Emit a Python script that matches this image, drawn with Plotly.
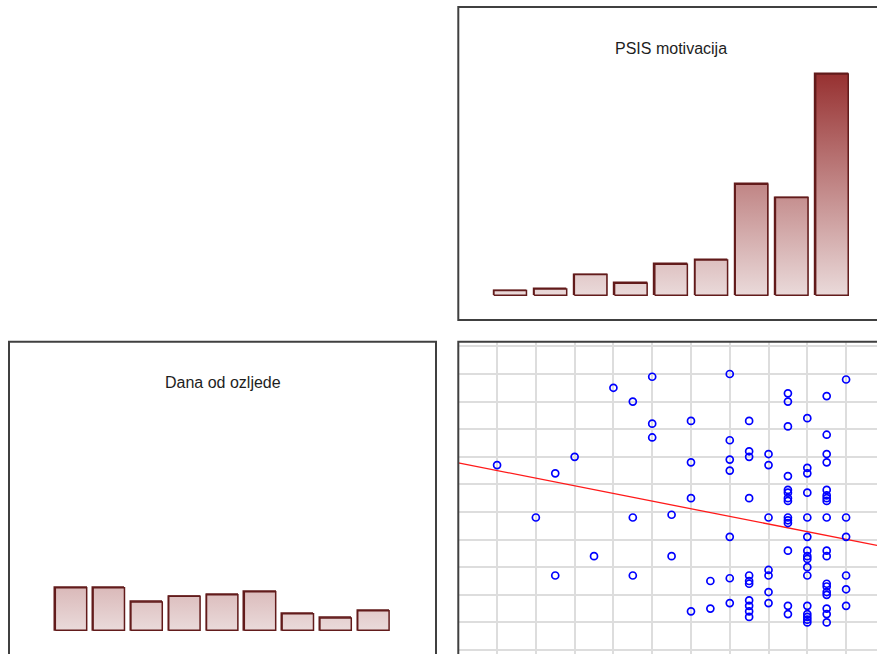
import numpy as np
import plotly.graph_objects as go

# ---------------- data ----------------
panel_titles = ["PSIS motivacija", "Dana od ozljede"]

# histogram of PSIS motivacija (bar heights, relative frequency units)
psis_bins = [1, 2, 3, 4, 5, 6, 7, 8, 9]
psis_freq = [4.7, 6.3, 20.7, 12.0, 31.0, 35.3, 111.0, 97.7, 221.3]

# histogram of Dana od ozljede (same units)
dana_bins = [1, 2, 3, 4, 5, 6, 7, 8, 9]
dana_freq = [42.6, 42.6, 28.3, 34.0, 35.6, 38.6, 16.6, 12.3, 19.6]

# scatter: PSIS motivacija (x) vs Dana od ozljede (y)
psis_score = [
    1.0,
    2.0,
    2.5, 2.5,
    3.0,
    3.5,
    4.0,
    4.5, 4.5, 4.5,
    5.0, 5.0, 5.0,
    5.5, 5.5,
    6.0, 6.0, 6.0, 6.0,
    6.5, 6.5,
    7.0, 7.0, 7.0, 7.0, 7.0, 7.0, 7.0,
    7.5, 7.5, 7.5, 7.5, 7.5, 7.5, 7.5, 7.5, 7.5, 7.5, 7.5,
    8.0, 8.0, 8.0, 8.0, 8.0, 8.0, 8.0,
    8.5, 8.5, 8.5, 8.5, 8.5, 8.5, 8.5, 8.5, 8.5, 8.5, 8.5, 8.5, 8.5, 8.5,
    9.0, 9.0, 9.0, 9.0, 9.0, 9.0, 9.0, 9.0, 9.0, 9.0, 9.0, 9.0, 9.0, 9.0, 9.0, 9.0,
    9.5, 9.5, 9.5, 9.5, 9.5, 9.5, 9.5, 9.5, 9.5, 9.5, 9.5, 9.5, 9.5, 9.5, 9.5, 9.5, 9.5, 9.5,
    10.0, 10.0, 10.0, 10.0, 10.0, 10.0,
]
days_since_injury = [
    67,
    48,
    64, 27,
    70,
    34,
    95,
    90, 48, 27,
    99, 82, 77,
    49, 34,
    83, 68, 55, 14,
    25, 15,
    100, 76, 69, 65, 41, 26, 17,
    83, 72, 70, 55, 27, 25, 24, 18, 16, 14, 12,
    71, 67, 48, 29, 27, 21, 17,
    93, 90, 81, 63, 58, 57, 55, 54, 48, 47, 46, 36, 16, 13,
    84, 66, 64, 57, 48, 41, 36, 34, 33, 30, 27, 16, 13, 12, 11, 10,
    92, 78, 71, 68, 58, 56, 55, 54, 48, 36, 34, 24, 23, 21, 20, 15, 13, 10,
    98, 48, 41, 27, 22, 16,
]

# ---------------- styling / layout ----------------
W, H = 877, 654
GRAD = [[0, "#eadada"], [1, "#973131"]]
EDGE = "#621b1b"
BORDER = "#404040"
FONT = "Liberation Sans, Arial, sans-serif"


def fx(p):
    return p / W


def fy(p):
    return 1 - p / H


def hist_traces(bins, freq, width, xa, ya, grad_stop):
    bar = go.Bar(
        x=bins, y=freq, width=width,
        marker=dict(color="#cfa5a5", line=dict(color=EDGE, width=1.5)),
        xaxis=xa, yaxis=ya, hoverinfo="skip", showlegend=False,
    )
    xs, ys = [], []
    for b, f in zip(bins, freq):
        xs += [b - width / 2, b + width / 2, b + width / 2, b - width / 2, b - width / 2, None]
        ys += [0, 0, f, f, 0, None]
    grad = go.Scatter(
        x=xs, y=ys, mode="lines", fill="toself",
        fillgradient=dict(type="vertical", colorscale=GRAD, start=0, stop=grad_stop),
        line=dict(color=EDGE, width=1.5),
        xaxis=xa, yaxis=ya, hoverinfo="skip", showlegend=False,
    )
    return [bar, grad]


fig = go.Figure()
grad_stop = max(psis_freq)
for t in hist_traces(psis_bins, psis_freq, 0.81, "x", "y", grad_stop):
    fig.add_trace(t)
for t in hist_traces(dana_bins, dana_freq, 0.83, "x2", "y2", grad_stop):
    fig.add_trace(t)

# scatter panel
sc_xrange = [0, 10.797]
sc_yrange = [-1.449, 111.7]
slope, intercept = np.polyfit(psis_score, days_since_injury, 1)
fig.add_trace(go.Scatter(
    x=sc_xrange, y=[intercept + slope * v for v in sc_xrange],
    mode="lines", line=dict(color="#ff1a1a", width=1.3),
    xaxis="x3", yaxis="y3", hoverinfo="skip", showlegend=False,
))
fig.add_trace(go.Scatter(
    x=psis_score, y=days_since_injury, mode="markers",
    marker=dict(symbol="circle-open", size=7, color="#0000ff", line=dict(width=1.7)),
    xaxis="x3", yaxis="y3", showlegend=False,
))

hidden = dict(showticklabels=False, ticks="", showline=False, zeroline=False,
              showgrid=False, fixedrange=True)

fig.update_layout(
    width=W, height=H,
    margin=dict(l=0, r=0, t=0, b=0),
    paper_bgcolor="white", plot_bgcolor="white",
    showlegend=False, bargap=0,
    xaxis=dict(domain=[fx(458.3), 1], range=[-0.290, 10.12], anchor="y", **hidden),
    yaxis=dict(domain=[fy(320), fy(7)], range=[-24.7, 288.3], anchor="x", **hidden),
    xaxis2=dict(domain=[fx(9), fx(436)], range=[-0.640, 10.656], anchor="y2", **hidden),
    yaxis2=dict(domain=[0, fy(341.7)], range=[-23.7, 288.6], anchor="x2", **hidden),
    xaxis3=dict(domain=[fx(458.3), 1], range=sc_xrange, anchor="y3",
                showticklabels=False, ticks="", showline=False, zeroline=False,
                showgrid=True, gridcolor="#dddddd", gridwidth=1.8, tick0=0, dtick=1,
                fixedrange=True),
    yaxis3=dict(domain=[0, fy(341.7)], range=sc_yrange, anchor="x3",
                showticklabels=False, ticks="", showline=False, zeroline=False,
                showgrid=True, gridcolor="#dddddd", gridwidth=1.8, tick0=0, dtick=10,
                fixedrange=True),
    shapes=[
        dict(type="rect", xref="paper", yref="paper", x0=fx(458.3), x1=1.05,
             y0=fy(320), y1=fy(7), line=dict(color=BORDER, width=2)),
        dict(type="rect", xref="paper", yref="paper", x0=fx(9), x1=fx(436),
             y0=-0.02, y1=fy(341.7), line=dict(color=BORDER, width=2)),
        dict(type="rect", xref="paper", yref="paper", x0=fx(458.3), x1=1.05,
             y0=-0.02, y1=fy(341.7), line=dict(color=BORDER, width=2)),
    ],
    annotations=[
        dict(text=panel_titles[0], xref="paper", yref="paper", x=fx(670.5), y=fy(48.3),
             xanchor="center", yanchor="middle", showarrow=False,
             font=dict(family=FONT, size=16, color="#1e1e1e")),
        dict(text=panel_titles[1], xref="paper", yref="paper", x=fx(223.5), y=fy(382.7),
             xanchor="center", yanchor="middle", showarrow=False,
             font=dict(family=FONT, size=16, color="#1e1e1e")),
    ],
)

fig.write_html(
    "out.html",
    config={"displayModeBar": False},
    post_script="document.body.style.margin='0';document.body.style.overflow='hidden';",
)
